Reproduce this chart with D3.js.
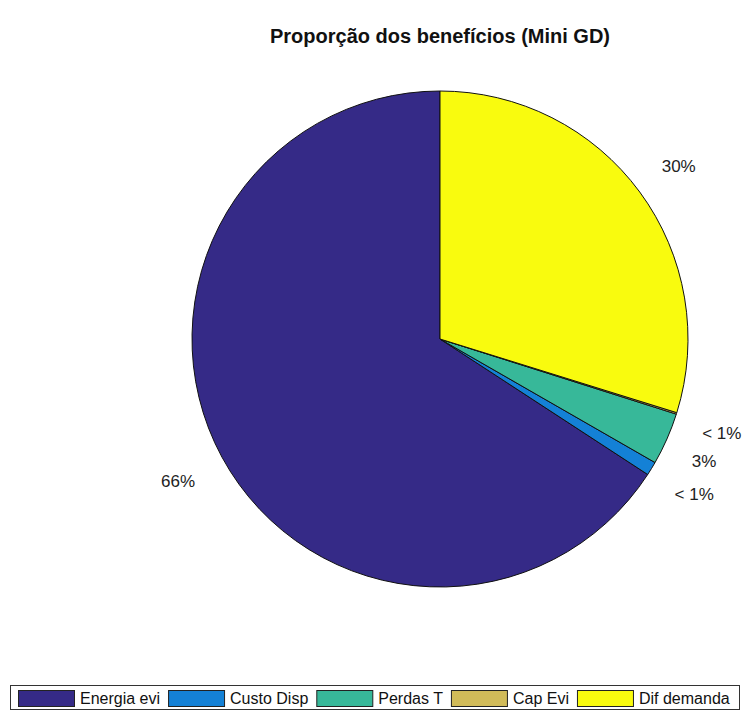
<!DOCTYPE html>
<html>
<head>
<meta charset="utf-8">
<script src="https://cdn.jsdelivr.net/npm/d3@7"></script>
<style>
  body { margin: 0; background: #fff; }
  svg { display: block; font-family: "Liberation Sans", Arial, Helvetica, sans-serif; }
</style>
</head>
<body>
<svg id="chart" width="742" height="711"></svg>
<script>
// Benefit shares for the Mini GD case (percent)
const categories = ["Energia evi", "Custo Disp", "Perdas T", "Cap Evi", "Dif demanda"];
const shares = [65.8, 0.9, 3.4, 0.1, 29.8];
const colors = ["#352a87", "#1481d6", "#37b899", "#d1bb59", "#f9fb0e"];
const titleText = "Proporção dos benefícios (Mini GD)";

const svg = d3.select("#chart");
const W = 742, H = 711;
const cx = 440, cy = 339, r = 248;

svg.append("rect").attr("width", W).attr("height", H).attr("fill", "#fff");

// Title
svg.append("text")
  .attr("x", cx).attr("y", 43)
  .attr("text-anchor", "middle")
  .attr("font-weight", "bold")
  .attr("font-size", 20)
  .attr("fill", "#111")
  .text(titleText);

// Slices run counter-clockwise from 12 o'clock
const total = d3.sum(shares);
const pie = d3.pie().sort(null).value(d => d)
  .startAngle(0).endAngle(-2 * Math.PI);
const arcs = pie(shares);
const arc = d3.arc().innerRadius(0).outerRadius(r);

const g = svg.append("g").attr("transform", `translate(${cx},${cy})`);
g.selectAll("path.slice").data(arcs).join("path")
  .attr("class", "slice")
  .attr("d", arc)
  .attr("fill", (d, i) => colors[i])
  .attr("stroke", "#111")
  .attr("stroke-width", 1)
  .attr("stroke-linejoin", "round");

// Percentage labels at 1.1 × radius, aligned away from the centre
const fmt = v => {
  const p = v / total * 100;
  return p < 1 ? "< 1%" : Math.round(p) + "%";
};
g.selectAll("text.pct").data(arcs).join("text")
  .attr("class", "pct")
  .each(function (d, i) {
    const a = (d.startAngle + d.endAngle) / 2; // d3 angle: 0 = up, clockwise positive
    const x = 1.1 * r * Math.sin(a);
    const y = -1.1 * r * Math.cos(a);
    const t = d3.select(this);
    t.attr("x", x >= 0 ? x + 2 : x - 5)
      .attr("y", y < 0 ? y - 5 : y + 18)
      .attr("text-anchor", x >= 0 ? "start" : "end")
      .attr("font-size", 17)
      .attr("fill", "#222")
      .text(fmt(d.data));
  });

// Legend
const legend = svg.append("g");
legend.append("rect")
  .attr("x", 10.5).attr("y", 685.5)
  .attr("width", 729).attr("height", 24)
  .attr("fill", "#fff").attr("stroke", "#333").attr("stroke-width", 1);

const swW = 56, swH = 16, gapText = 5, gapItem = 8;
let lx = 18;
categories.forEach((c, i) => {
  legend.append("rect")
    .attr("x", lx + 0.5).attr("y", 690.5)
    .attr("width", swW).attr("height", swH)
    .attr("fill", colors[i]).attr("stroke", "#222").attr("stroke-width", 1);
  const t = legend.append("text")
    .attr("x", lx + swW + gapText + 1).attr("y", 704)
    .attr("font-size", 16)
    .attr("fill", "#111")
    .text(c);
  lx += swW + gapText + 1 + t.node().getComputedTextLength() + gapItem;
});
</script>
</body>
</html>
